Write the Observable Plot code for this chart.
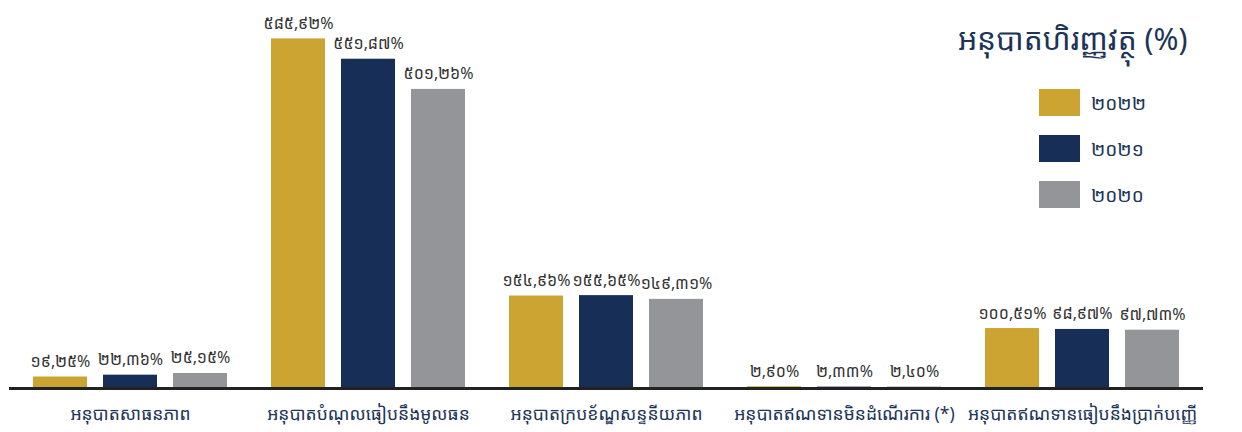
<!DOCTYPE html>
<html>
<head>
<meta charset="utf-8">
<script src="https://cdn.jsdelivr.net/npm/d3@7"></script>
<script src="https://cdn.jsdelivr.net/npm/@observablehq/plot@0.6"></script>
<style>
  html, body { margin: 0; padding: 0; background: #fff; }
  body { width: 1242px; height: 432px; position: relative; overflow: hidden;
         font-family: "Noto Sans Khmer", "Khmer OS", "Noto Sans", sans-serif; }
  #title { position: absolute; left: 958px; top: 18px; font-size: 30px; color: #1c3457; white-space: nowrap; }
  #legend { position: absolute; left: 1039px; top: 89px; }
  .row { display: flex; align-items: center; height: 27px; margin-bottom: 19px; }
  .sw { width: 41px; height: 27px; margin-right: 11px; }
  .lab { font-size: 19px; color: #1c3457; }
</style>
</head>
<body>
<div id="chart"></div>
<div id="title"></div>
<div id="legend"></div>
<script>
const titleText = "អនុបាតហិរញ្ញវត្ថុ (%)";
const categories = [
  "អនុបាតសាធនភាព",
  "អនុបាតបំណុលធៀបនឹងមូលធន",
  "អនុបាតក្របខ័ណ្ឌសន្ទនីយភាព",
  "អនុបាតឥណទានមិនដំណើរការ (*)",
  "អនុបាតឥណទានធៀបនឹងប្រាក់បញ្ញើ"
];
const years = ["២០២២", "២០២១", "២០២០"];
const colors = ["#cca432", "#172f56", "#939598"];
const values2022 = [19.25, 585.92, 154.96, 2.90, 100.51];
const values2021 = [22.36, 551.87, 155.65, 2.33, 98.97];
const values2020 = [25.15, 501.26, 149.31, 2.40, 97.73];

const series = [values2022, values2021, values2020];
const data = [];
categories.forEach((c, i) => {
  years.forEach((y, j) => data.push({category: c, year: y, value: series[j][i]}));
});

const khDigits = "០១២៣៤៥៦៧៨៩";
const fmt = v => v.toFixed(2).replace(".", ",").replace(/[0-9]/g, d => khDigits[+d]) + "%";

const chart = Plot.plot({
  width: 1242,
  height: 432,
  marginTop: 30,
  marginBottom: 44,
  marginLeft: 30,
  marginRight: 60,
  style: {fontFamily: '"Noto Sans Khmer", "Khmer OS", "Noto Sans", sans-serif', background: "#fff"},
  fx: {domain: categories, paddingInner: 0.177, paddingOuter: 0, label: null, axis: "bottom", tickSize: 0, tickPadding: 19},
  x: {domain: years, paddingInner: 0.234, paddingOuter: 0, axis: null},
  y: {domain: [0, 600], axis: null},
  color: {domain: years, range: colors},
  facet: {data: data, x: "category"},
  marks: [
    Plot.barY(data, {fx: "category", x: "year", y: "value", fill: "year"}),
    Plot.text(data, {fx: "category", x: "year", y: "value", text: d => fmt(d.value), lineAnchor: "bottom", dy: -10, fontSize: 16, fill: "#333"}),
    Plot.ruleY([0], {stroke: "#222", strokeWidth: 3, insetLeft: -23, insetRight: -23})
  ]
});
chart.querySelectorAll('g[aria-label="fx-axis tick label"]').forEach(g => {
  g.setAttribute("font-size", "17.5");
  g.setAttribute("fill", "#1c3457");
});
document.getElementById("chart").appendChild(chart);

document.getElementById("title").textContent = titleText;
const leg = document.getElementById("legend");
years.forEach((y, i) => {
  const row = document.createElement("div");
  row.className = "row";
  const sw = document.createElement("div");
  sw.className = "sw";
  sw.style.background = colors[i];
  const lab = document.createElement("span");
  lab.className = "lab";
  lab.textContent = y;
  row.appendChild(sw); row.appendChild(lab);
  leg.appendChild(row);
});
</script>
</body>
</html>
